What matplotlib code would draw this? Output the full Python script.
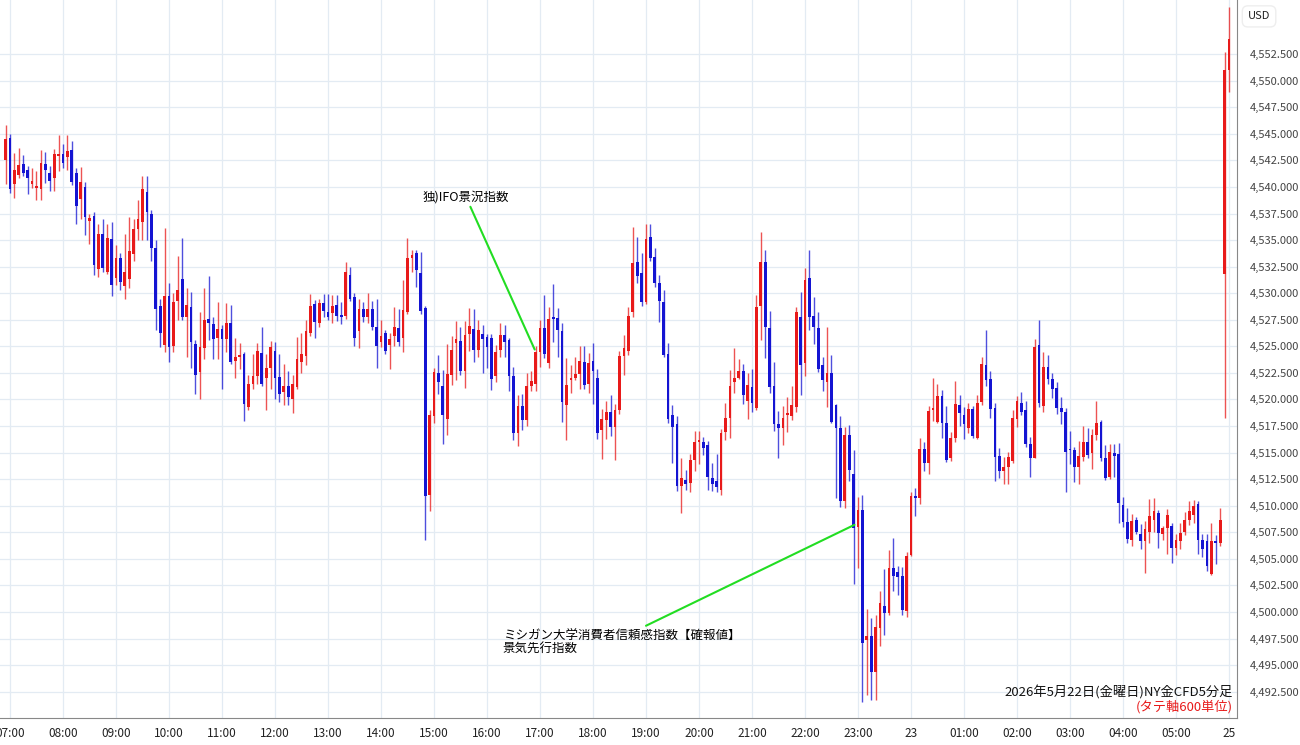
import matplotlib
matplotlib.use("Agg")
import matplotlib.pyplot as plt

plt.rcParams['font.family'] = ['Noto Sans CJK JP', 'DejaVu Sans']

# (open, high, low, close) per 5-minute candle, starting 06:55
seg_a = [(4542.5,4545.8,4540.3,4544.5),(4544.6,4545.0,4539.4,4539.8),(4540.3,4543.2,4539.0,4541.6),(4541.1,4543.7,4540.8,4542.1),
 (4542.2,4543.0,4541.0,4541.3),(4541.6,4542.0,4539.3,4540.8),(4540.3,4541.8,4539.9,4540.6),(4539.9,4541.5,4538.8,4540.1),
 (4539.8,4543.5,4538.8,4542.3),(4542.2,4543.3,4540.4,4541.6),(4541.3,4542.0,4539.6,4540.6),(4540.8,4543.6,4539.6,4543.1),
 (4542.9,4544.9,4541.5,4543.1),(4543.1,4544.0,4541.8,4542.3),(4542.8,4544.9,4541.6,4543.4),(4543.5,4544.3,4540.2,4540.5),
 (4541.3,4541.8,4536.5,4538.2),(4538.9,4541.9,4537.0,4540.5),(4540.0,4540.5,4535.5,4537.2),(4536.8,4537.5,4534.6,4537.1),
 (4537.3,4537.6,4531.7,4532.7),(4532.3,4536.5,4531.5,4535.6),(4535.6,4537.0,4532.0,4532.4),(4532.0,4536.5,4531.8,4535.2),
 (4535.1,4536.7,4529.7,4530.8),(4531.4,4534.5,4530.8,4533.3),(4533.3,4533.8,4530.3,4531.1),(4530.7,4535.6,4529.5,4532.0),
 (4531.3,4537.2,4530.5,4534.0),(4533.7,4537.0,4533.0,4536.0),(4536.0,4538.8,4535.0,4537.0),(4536.7,4541.0,4535.0,4539.8),
 (4539.5,4541.0,4535.0,4537.6),(4537.5,4537.8,4533.0,4534.3),(4534.3,4535.0,4526.5,4528.5),(4528.8,4529.5,4524.9,4526.3),
 (4525.1,4536.1,4524.5,4529.7),(4529.7,4531.0,4523.5,4524.9),(4525.0,4530.0,4524.5,4529.2),(4529.3,4533.5,4527.5,4530.3),
 (4531.3,4535.2,4527.5,4527.8),(4527.8,4530.5,4524.0,4528.9),(4528.7,4530.1,4523.0,4525.4),(4525.2,4525.6,4520.5,4522.3),
 (4522.6,4528.2,4520.0,4524.9),(4524.8,4530.5,4523.8,4527.5),(4527.6,4531.6,4525.6,4527.2),(4527.1,4527.8,4523.8,4525.7),
 (4525.8,4529.2,4523.8,4526.6)]
seg_b = [(4526.6,4527.0,4521.0,4525.7),(4525.7,4529.1,4524.5,4527.2),(4527.2,4528.9,4523.3,4523.5),(4523.6,4525.8,4522.0,4524.0),
 (4524.0,4525.3,4522.9,4524.2),(4524.3,4524.5,4518.0,4519.6),(4519.3,4522.3,4519.0,4521.5),(4521.5,4524.3,4521.0,4522.2),
 (4522.2,4525.3,4521.5,4524.6),(4524.4,4526.8,4521.3,4521.5),(4522.0,4524.3,4519.0,4523.0),(4523.0,4525.5,4521.0,4524.9),
 (4524.6,4525.4,4520.0,4522.0),(4522.1,4524.3,4519.8,4520.5),(4520.7,4523.3,4519.5,4521.3),(4521.3,4522.7,4519.5,4520.2),
 (4520.0,4522.3,4518.7,4521.5),(4521.2,4525.9,4521.0,4523.8),(4523.5,4526.3,4522.5,4524.3),(4524.1,4527.5,4523.2,4526.4),
 (4526.3,4529.9,4526.0,4528.8),(4529.0,4529.4,4525.8,4527.3),(4527.2,4529.5,4526.8,4529.1),(4529.1,4529.9,4527.8,4528.3),
 (4528.2,4529.9,4527.5,4527.8),(4528.1,4529.8,4527.2,4528.8),(4528.9,4529.8,4527.4,4527.9),(4527.9,4529.2,4527.1,4527.8),
 (4527.9,4532.9,4527.6,4532.0),(4531.7,4532.5,4529.3,4529.5),(4529.6,4530.0,4525.0,4525.8),(4526.4,4529.5,4524.8,4528.5),
 (4528.5,4529.2,4527.3,4527.8),(4527.8,4530.0,4527.2,4528.5),(4528.5,4529.3,4526.5,4526.8),(4526.8,4529.5,4523.0,4525.0),
 (4525.4,4527.5,4524.9,4526.0),(4526.3,4526.5,4524.3,4524.6),(4525.1,4526.3,4522.9,4525.7),(4526.0,4528.7,4525.0,4526.8),
 (4526.7,4528.5,4525.0,4525.4),(4525.8,4531.2,4524.5,4528.4),(4528.2,4535.2,4528.0,4533.3),(4533.3,4534.1,4532.0,4533.6),
 (4533.8,4534.1,4530.6,4532.2),(4531.9,4533.9,4528.0,4528.3),(4528.6,4528.8,4506.8,4510.9),(4511.0,4519.0,4509.5,4518.5),
 (4518.4,4523.0,4517.8,4522.6),(4522.5,4524.2,4520.5,4521.6)]
seg_c = [(4521.3,4522.8,4515.8,4518.5),(4518.2,4525.2,4516.7,4522.4),(4522.3,4526.0,4521.4,4524.7),(4525.3,4527.4,4521.8,4525.7),
 (4525.5,4526.8,4522.3,4522.7),(4522.7,4527.4,4521.1,4526.1),(4526.2,4528.6,4524.6,4526.9),(4526.6,4528.5,4523.5,4524.7),
 (4524.7,4527.5,4524.0,4526.5),(4526.2,4527.0,4522.5,4525.7),(4525.9,4526.2,4523.0,4524.9),(4525.8,4526.2,4520.9,4521.9),
 (4522.2,4525.1,4521.6,4524.5),(4524.7,4527.2,4524.0,4526.1),(4526.1,4527.0,4524.0,4525.4),(4525.6,4525.8,4520.8,4522.2),
 (4522.2,4523.1,4516.2,4516.8),(4516.8,4520.4,4515.6,4519.4),(4519.4,4520.5,4517.1,4518.1),(4518.1,4522.5,4517.5,4521.3),
 (4521.3,4522.7,4520.8,4521.7),(4521.5,4525.0,4520.8,4524.5),(4524.5,4527.5,4523.1,4526.7),(4526.7,4529.8,4523.9,4524.3),
 (4523.4,4528.7,4523.0,4527.6),(4527.8,4530.9,4525.4,4527.6),(4527.7,4528.6,4524.0,4526.5),(4526.4,4527.2,4517.9,4519.8),
 (4519.5,4523.9,4516.2,4521.4),(4521.8,4523.2,4520.6,4522.0),(4522.0,4524.0,4521.8,4522.4),(4522.4,4525.0,4521.0,4523.6),
 (4523.5,4525.0,4521.0,4521.4),(4521.5,4524.4,4520.6,4523.4),(4523.6,4525.3,4519.6,4522.7),(4522.0,4522.9,4516.3,4516.8),
 (4517.1,4519.1,4514.4,4518.2),(4518.1,4519.9,4516.3,4518.8),(4518.8,4520.4,4516.6,4517.4),(4517.4,4519.6,4514.3,4519.0),
 (4519.0,4524.6,4518.6,4524.1),(4524.1,4526.1,4522.3,4524.8),(4524.6,4528.7,4524.2,4527.9),(4528.2,4536.2,4527.8,4532.8),
 (4532.9,4535.3,4531.0,4531.6),(4531.9,4533.8,4528.8,4529.2),(4529.2,4536.5,4529.0,4535.1),(4535.3,4536.5,4533.0,4533.3),
 (4533.4,4534.3,4530.6,4531.0)]
seg_d = [(4531.0,4531.7,4527.3,4529.3),(4529.2,4530.3,4524.0,4524.2),(4524.3,4525.3,4517.8,4518.2),(4518.5,4519.5,4514.0,4517.4),
 (4517.7,4518.4,4511.4,4511.9),(4511.9,4514.5,4509.3,4512.6),(4512.4,4513.4,4511.5,4512.0),(4512.1,4514.9,4511.3,4514.3),
 (4514.3,4517.0,4513.3,4516.0),(4516.0,4517.0,4513.9,4516.1),(4516.0,4516.5,4514.8,4515.4),(4515.7,4516.1,4511.5,4512.7),
 (4512.6,4514.0,4511.4,4512.0),(4512.3,4514.9,4511.3,4511.8),(4511.5,4517.2,4511.0,4516.8),(4516.9,4519.7,4516.2,4518.3),
 (4518.3,4522.8,4516.4,4521.3),(4521.6,4524.8,4520.6,4522.0),(4522.0,4523.8,4521.9,4522.7),(4522.7,4523.3,4519.6,4520.4),
 (4519.9,4522.5,4518.2,4521.4),(4521.2,4522.9,4518.8,4519.7),(4519.2,4529.8,4519.0,4528.7),(4528.8,4535.8,4525.6,4532.9),
 (4532.9,4534.1,4523.9,4526.8),(4526.7,4528.3,4520.6,4521.2),(4521.3,4523.5,4517.0,4517.7),(4517.7,4518.9,4514.5,4517.3),
 (4517.3,4519.4,4515.7,4518.3),(4518.5,4520.2,4516.9,4518.7),(4518.4,4521.3,4518.1,4519.5),(4519.3,4528.7,4518.8,4528.2),
 (4527.8,4530.1,4520.4,4523.2),(4523.4,4532.4,4522.2,4531.2),(4531.4,4534.1,4526.5,4527.8),(4527.9,4529.6,4525.2,4526.8),
 (4526.7,4528.2,4522.6,4522.9),(4523.2,4524.0,4520.8,4521.8),(4521.6,4526.8,4519.3,4522.5),(4522.5,4524.2,4517.8,4517.9),
 (4519.5,4519.6,4510.7,4517.3),(4517.3,4518.4,4509.9,4510.4),(4510.4,4517.4,4509.8,4516.7),(4516.7,4517.6,4512.3,4513.4),
 (4513.0,4515.2,4502.6,4507.9),(4508.0,4510.8,4504.1,4509.6),(4509.6,4511.0,4491.5,4497.1),(4497.4,4500.3,4492.2,4497.7),
 (4497.7,4499.4,4491.7,4494.3),(4494.3,4499.7,4491.7,4498.6)]
seg_e = [(4498.5,4502.0,4496.8,4500.8),(4500.6,4504.0,4497.8,4499.9),(4499.9,4505.8,4499.7,4504.1),(4504.1,4507.0,4502.0,4503.4),
 (4503.8,4504.3,4501.6,4503.3),(4503.4,4504.2,4499.7,4500.2),(4500.1,4505.6,4499.5,4505.3),(4505.4,4511.3,4505.3,4510.9),
 (4510.9,4511.7,4509.0,4510.7),(4510.7,4516.4,4510.2,4515.3),(4515.3,4516.0,4513.3,4514.0),(4514.0,4519.4,4513.0,4518.9),
 (4519.0,4522.0,4518.0,4519.1),(4517.9,4521.5,4517.8,4520.3),(4520.3,4520.9,4516.4,4517.8),(4517.8,4519.4,4514.1,4514.3),
 (4514.5,4516.9,4514.2,4516.4),(4516.4,4521.7,4516.0,4519.6),(4519.5,4520.4,4517.5,4518.7),(4518.5,4519.3,4516.3,4517.7),
 (4517.3,4519.7,4516.8,4519.1),(4519.1,4519.4,4516.4,4516.6),(4516.4,4520.4,4516.3,4519.7),(4519.8,4524.0,4519.5,4523.3),
 (4523.2,4526.5,4521.3,4521.8),(4521.9,4522.7,4518.3,4519.1),(4519.2,4519.7,4512.3,4514.6),(4514.7,4515.4,4512.6,4513.3),
 (4513.3,4514.6,4512.0,4513.6),(4513.6,4515.1,4512.0,4514.6),(4514.2,4519.0,4514.0,4518.3),(4518.2,4520.3,4517.4,4519.9),
 (4519.7,4520.7,4518.5,4518.8),(4519.0,4519.9,4515.5,4515.8),(4515.8,4516.5,4512.7,4514.5),(4514.5,4525.7,4514.5,4524.9),
 (4525.1,4527.5,4519.3,4519.7),(4519.4,4524.5,4518.8,4523.1),(4523.1,4524.2,4521.5,4521.9),(4521.9,4522.5,4520.1,4521.0),
 (4521.1,4521.6,4518.6,4519.2),(4519.2,4520.2,4517.7,4518.8),(4518.8,4519.2,4511.3,4515.1),(4515.3,4517.0,4513.9,4515.2),
 (4515.2,4515.5,4512.2,4513.6),(4513.6,4516.1,4512.0,4514.7),(4514.6,4517.5,4514.2,4516.0),(4516.0,4517.3,4514.5,4514.8),
 (4515.0,4517.2,4513.5,4516.7),(4516.7,4519.9,4516.2,4517.8),(4517.9,4518.1,4514.2,4514.5),(4514.5,4515.7,4512.4,4512.6)]
seg_f = [(4512.7,4515.8,4512.5,4515.1),(4515.0,4515.8,4512.7,4514.7),(4514.9,4515.9,4508.4,4510.3),(4510.1,4510.8,4508.0,4508.5),
 (4508.5,4509.8,4506.5,4506.9),(4506.8,4509.2,4506.2,4508.6),(4508.7,4508.9,4507.3,4507.5),(4507.3,4508.3,4505.9,4506.7),
 (4506.7,4508.6,4503.7,4507.8),(4507.5,4510.6,4506.5,4509.0),(4508.7,4510.7,4507.5,4509.5),(4509.3,4509.6,4506.0,4507.4),
 (4507.3,4508.1,4506.8,4507.9),(4507.9,4509.7,4505.5,4509.1),(4508.1,4508.4,4504.6,4506.0),(4506.0,4507.3,4505.4,4506.8),
 (4506.7,4508.4,4505.9,4507.4),(4507.5,4509.4,4507.2,4508.7),(4508.7,4510.4,4508.2,4509.5),(4509.1,4510.5,4508.4,4510.0),
 (4510.2,4510.4,4505.5,4506.8),(4506.8,4507.3,4505.2,4505.9),(4506.7,4507.3,4503.9,4504.3),(4503.6,4508.4,4503.5,4506.7),
 (4506.7,4507.2,4504.5,4506.5),(4506.5,4509.8,4506.2,4508.7),(4531.8,4552.7,4518.3,4551.0),(4551.0,4556.9,4548.9,4553.9)]

tick_labels = ["07:00", "08:00", "09:00", "10:00", "11:00", "12:00", "13:00", "14:00", "15:00",
               "16:00", "17:00", "18:00", "19:00", "20:00", "21:00", "22:00", "23:00", "23",
               "01:00", "02:00", "03:00", "04:00", "05:00", "25"]
y_ticks = [4492.5 + 2.5 * k for k in range(25)]

candles = seg_a + seg_b + seg_c + seg_d + seg_e + seg_f
start = -1

UP = '#e81a1a'
DOWN = '#1414d2'

fig = plt.figure(figsize=(13, 7.45), dpi=100)
ax = fig.add_axes([0.0, 0.036, 0.9515, 0.964])

for i, (o, h, l, c) in enumerate(candles):
    x = start + i
    col = UP if c >= o else DOWN
    ax.vlines(x, l, h, color=col, lw=1.0, alpha=0.75, zorder=2)
    lo, hi = min(o, c), max(o, c)
    if hi - lo < 0.15:
        hi = lo + 0.15
    ax.bar(x, hi - lo, bottom=lo, width=0.62, color=col, edgecolor=col, lw=0, zorder=3)

ax.set_xlim(-2.26, 277.8)
ax.set_ylim(4490.0, 4557.6)
ax.set_xticks([12 * k for k in range(len(tick_labels))])
ax.set_xticklabels(tick_labels, fontsize=8.5, color='#222222')
ax.set_yticks(y_ticks)
ax.set_yticklabels([f"{v:,.3f}" for v in y_ticks], fontsize=8, color='#444444')
ax.yaxis.tick_right()
ax.tick_params(axis='both', length=0, pad=6)
ax.tick_params(axis='y', pad=9)
ax.grid(True, color='#e3ebf3', lw=0.9, zorder=0)
ax.set_axisbelow(True)
for s in ['top', 'left']:
    ax.spines[s].set_visible(False)
ax.spines['right'].set_color('#888888')
ax.spines['bottom'].set_color('#888888')

green = dict(arrowstyle='-', color='#22dd22', lw=1.5, shrinkA=0, shrinkB=0)
ax.annotate('独)IFO景況指数', xy=(118.8, 4524.7), xytext=(93.5, 4538.4), fontsize=9,
            arrowprops=green, ha='left', va='bottom')
ax.text(111.6, 4497.1, 'ミシガン大学消費者信頼感指数【確報値】\n景気先行指数', fontsize=9,
        linespacing=1.0, ha='left', va='center')
ax.annotate('', xy=(191.2, 4508.2), xytext=(144.0, 4498.7), arrowprops=green)

fig.text(0.948, 0.071, '2026年5月22日(金曜日)NY金CFD5分足', fontsize=9.5, ha='right', va='center', color='#111111')
fig.text(0.948, 0.052, '(タテ軸600単位)', fontsize=9.5, ha='right', va='center', color='#e81a1a')

fig.text(0.9685, 0.978, 'USD', fontsize=8, ha='center', va='center', color='#222222',
         bbox=dict(boxstyle='round,pad=0.5', fc='white', ec='#eeeeee'))

fig.savefig('out.png', dpi=100)
